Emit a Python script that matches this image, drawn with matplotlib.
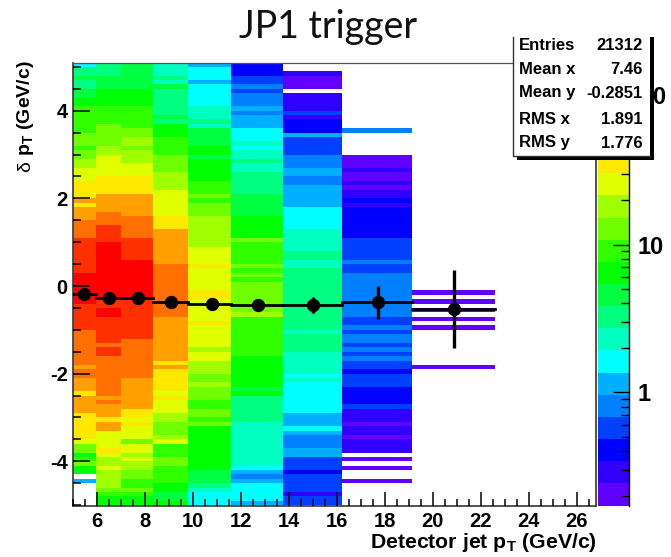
import matplotlib
matplotlib.use('Agg')
import matplotlib.pyplot as plt
from matplotlib.colors import ListedColormap, LogNorm
from matplotlib.patches import Rectangle
import numpy as np

W, H = 671, 557

# Z scale : 20 colour steps, from the palette
colors_z = ['#6000ff', '#3000ff', '#0000ff', '#0040ff', '#0080ff', '#00b0ff', '#00ffff',
            '#00ffc0', '#00ff80', '#00ff40', '#00ff00', '#30ff00', '#70ff00', '#a0ff00',
            '#e0ff00', '#ffe800', '#ffa000', '#ff7000', '#ff3000', '#ff0000']
z_min, z_max = 0.172, 170.0

# x bins (variable width)
x_edges = [4.98, 5.95, 7.0, 8.35, 9.8, 11.6, 13.75, 16.2, 19.15, 22.6]

# Each column : band edges from top to bottom, and colour step of each band (None = empty)
col0_y = [5.1, 5.0, 4.8, 4.7, 4.5, 4.3, 4.1, 3.5, 3.2, 3.1, 2.9, 2.7, 2.4, 2.0, 1.9, 1.8, 1.5, 1.1, 0.3,
          -0.4, -1.0, -1.8, -1.9, -2.1, -2.4, -2.5, -2.9, -3.5, -3.6, -3.8, -3.9, -4.0, -4.1, -4.3, -4.4, -4.5, -5.0]
col0_z = [6, 8, 9, 8, 9, 10, 11, 12, 11, 12, 13, 14, 15, 16, 15, 16, 17, 18, 19,
          18, 17, 16, 17, 16, 15, 16, 15, 14, 12, 10, 11, 12, 10, None, 5, None]

col1_y = [5.1, 4.8, 4.5, 4.1, 3.7, 3.2, 3.0, 2.5, 2.1, 1.7, 1.4, 1.0, -0.3, -0.5, -0.7, -1.3, -1.4, -1.6,
          -2.5, -2.6, -2.7, -3.0, -3.1, -3.3, -3.7, -3.8, -3.9, -4.1, -4.2, -4.6, -4.7, -4.8, -5.0]
col1_z = [8, 9, 10, 11, 12, 13, 14, 15, 16, 17, 18, 19, 18, 19, 18, 17, 18,
          17, 16, 17, 16, 15, 16, 14, 15, 14, 13, 14, 13, 12, 11, 10]

col2_y = [5.1, 4.5, 4.1, 3.6, 3.4, 3.2, 3.1, 2.8, 2.5, 2.1, 1.6, 1.1, 0.6, -0.3, -1.2, -2.1, -2.8, -3.0, -3.1,
          -3.2, -3.5, -3.6, -3.8, -3.9, -4.0, -4.2, -4.4, -4.6, -4.7, -4.8, -5.0]
col2_z = [9, 10, 11, 12, 13, 12, 13, 14, 15, 16, 17, 18, 19, 18, 17, 16, 15, 14,
          15, 14, 12, 14, 13, 14, 13, 12, 11, 12, 11, 10]

col3_y = [5.1, 4.8, 4.7, 4.6, 4.5, 3.9, 3.8, 3.7, 3.4, 3.0, 2.6, 2.2, 1.6, 1.3, 0.5, -0.7, -1.7, -1.8, -1.9,
          -2.4, -2.5, -2.6, -2.9, -3.1, -3.4, -3.5, -3.6, -3.9, -4.1, -4.5, -4.7, -4.9, -5.0]
col3_z = [7, 8, 7, 9, 8, 9, 8, 10, 11, 12, 13, 14, 15, 16, 17, 16, 15, 16,
          15, 14, 15, 14, 13, 12, 13, 14, 11, 12, 11, 10, 9, 10]

col4_y = [5.1, 5.0, 4.7, 4.6, 4.1, 3.8, 3.7, 3.6, 3.2, 3.0, 2.9, 2.4, 2.1, 2.0, 1.9, 1.6, 0.9, 0.5, 0.4,
          -0.1, -0.3, -0.8, -0.9, -1.4, -1.5, -1.7, -2.0, -2.2, -2.3, -2.6, -2.8, -3.0, -3.1, -3.2, -4.2, -4.5, -4.6, -4.7, -5.0]
col4_z = [5, 6, 5, 6, 7, 8, 7, 9, 10, 9, 10, 11, 12, 11, 12, 13, 14, 15, 14,
          15, 14, 15, 14, 13, 14, 13, 12, 13, 12, 11, 12, 11, 12, 10, 9, 8, 7, 6]

col5_y = [5.1, 4.8, 4.6, 4.5, 4.4, 4.1, 4.0, 3.9, 3.6, 3.3, 3.2, 3.1, 2.9, 2.8, 2.6, 2.1, 1.6, 1.1, 1.0, 0.5, 0.4, 0.3, 0.2, 0.1,
          -0.6, -0.7, -1.6, -2.3, -2.4, -2.5, -3.1, -4.1, -4.2, -4.3, -4.4, -4.5, -4.9, -5.0]
col5_z = [2, 3, 4, 3, 4, 5, 4, 5, 6, 7, 6, 7, 8, 7, 8, 9, 10, 12, 11, 12, 11, 12, 11, 12,
          13, 11, 10, 9, 10, 8, 7, 6, 5, 4, 5, 6, 5]

col6_y = [5.1, 4.9, 4.8, 4.5, 4.4, 4.0, 3.9, 3.8, 3.5, 3.4, 3.0, 2.7, 2.5, 2.3, 1.8, 1.3, 0.8, 0.6, 0.4,
          -1.0, -1.1, -1.5, -2.0, -2.1, -2.2, -2.9, -3.2, -3.3, -3.4, -3.7, -3.9, -4.2, -4.3, -4.7, -4.8, -5.0]
col6_z = [None, 1, 0, None, 1, 3, 1, 2, 5, 3, 4, 5, 4, 5, 6, 7, 8, 7, 8,
          7, 8, 7, 6, 7, 6, 5, 6, 5, 4, 5, 3, 2, 3, 1, 3]

col7_y = [5.1, 3.6, 3.5, 3.0, 2.7, 2.6, 2.4, 2.3, 2.2, 2.0, 1.9, 1.8, 1.1, 0.6, 0.5, 0.3,
          -0.7, -0.9, -1.0, -1.1, -1.3, -1.4, -1.5, -1.6, -1.7, -1.9, -2.0, -2.3, -2.7, -2.8, -3.1, -3.2, -3.4, -3.5,
          -3.8, -3.9, -4.0, -4.1, -4.2, -4.4, -4.5, -5.0]
col7_z = [None, 4, None, 0, 1, 0, 1, 0, 1, 2, 1, 2, 3, 4, 3, 4,
          3, 4, 3, 4, 3, 4, 3, 4, 3, 2, 3, 2, 3, 1, 0, 1, 0,
          1, None, 0, None, 0, None, 0, None]

col8_y = [5.1, -0.1, -0.2, -0.3, -0.4, -0.5, -0.6, -0.7, -0.8, -0.9, -1.0, -1.8, -1.9, -5.0]
col8_z = [None, 0, None, 0, None, 0, None, 0, None, 0, None, 0, None]

columns_y = [col0_y, col1_y, col2_y, col3_y, col4_y, col5_y, col6_y, col7_y, col8_y]
columns_z = [col0_z, col1_z, col2_z, col3_z, col4_z, col5_z, col6_z, col7_z, col8_z]

# Profile points
prof_x = [5.45, 6.5, 7.7, 9.1, 10.8, 12.7, 15.0, 17.7, 20.9]
prof_y = [-0.18, -0.28, -0.28, -0.37, -0.42, -0.43, -0.43, -0.37, -0.53]
prof_yerr = [0.05, 0.05, 0.05, 0.06, 0.07, 0.09, 0.19, 0.38, 0.89]

# Stat box
stat_names = ['Entries', 'Mean x', 'Mean y', 'RMS x', 'RMS y']
stat_values = ['21312', '7.46', '-0.2851', '1.891', '1.776']

x_ticks = [6, 8, 10, 12, 14, 16, 18, 20, 22, 24, 26]
y_ticks = [-4, -2, 0, 2, 4]
y_tick_labels = ['-4', '-2', '0', '2', '4']


def box(x0, y0, x1, y1):
    # pixel box (origin top left) -> figure fractions
    return [x0 / W, 1 - y1 / H, (x1 - x0) / W, (y1 - y0) / H]


plt.rcParams['font.family'] = ['Liberation Sans', 'DejaVu Sans']
plt.rcParams['font.weight'] = 'bold'
plt.rcParams['mathtext.fontset'] = 'custom'
plt.rcParams['mathtext.bf'] = 'Liberation Sans:bold'
plt.rcParams['mathtext.rm'] = 'Liberation Sans:bold'

fig = plt.figure(figsize=(W / 100, H / 100), dpi=100)
ax = fig.add_axes(box(72.5, 62.5, 596, 506))
cmap = ListedColormap(colors_z)
cmap.set_bad((1, 1, 1, 0))
norm = LogNorm(vmin=z_min, vmax=z_max)
step = np.log10(z_max / z_min) / len(colors_z)

mesh = None
for i in range(len(columns_y)):
    # centre of the colour step, as a count
    counts = [np.nan if s is None else z_min * 10 ** (step * (s + 0.5)) for s in columns_z[i]]
    mesh = ax.pcolormesh(x_edges[i:i + 2], columns_y[i], np.array(counts).reshape(-1, 1),
                         cmap=cmap, norm=norm, linewidth=0, rasterized=True)

# Profile
ax.errorbar(prof_x, prof_y, yerr=prof_yerr, fmt='none', ecolor='black', elinewidth=2.4, zorder=4)
for i in range(len(prof_x)):
    ax.plot(x_edges[i:i + 2], [prof_y[i], prof_y[i]], color='black', lw=2.0, zorder=4)
ax.plot(prof_x, prof_y, 'o', color='black', ms=8.6, zorder=5)

ax.set_xlim(4.98, 26.8)
ax.set_ylim(-5.02, 5.1)
ax.set_xticks(x_ticks)
ax.set_xticks(np.arange(5, 27, 0.5), minor=True)
ax.set_yticks(y_ticks)
ax.set_yticklabels(y_tick_labels)
ax.set_yticks(np.arange(-5, 5.1, 0.5), minor=True)
ax.tick_params(axis='x', which='major', direction='in', length=10, width=1.1, labelsize=14.5, pad=4)
ax.tick_params(axis='x', which='minor', direction='in', length=5, width=1.1)
ax.tick_params(axis='y', which='major', direction='in', length=12, width=1.1, labelsize=14.5, pad=3.5)
ax.tick_params(axis='y', which='minor', direction='in', length=6, width=1.1)
for side in ['left', 'bottom', 'right']:
    ax.spines[side].set_color('#444444')
    ax.spines[side].set_linewidth(1.3)
ax.spines['top'].set_color('#555555')
ax.spines['top'].set_linewidth(0.9)
ax.set_axisbelow(False)

# Colour bar
cax = fig.add_axes(box(598, 62.5, 629, 505.5))
cbar = fig.colorbar(mesh, cax=cax)
cbar.outline.set_visible(False)
cax.spines['right'].set_visible(True)
cax.spines['right'].set_color('black')
cax.spines['right'].set_linewidth(1.0)
cax.yaxis.set_ticks([1, 10, 100])
cax.yaxis.set_ticklabels(['1', '10', ''])
cax.yaxis.set_ticks([0.2, 0.3, 0.4, 0.5, 0.6, 0.7, 0.8, 0.9, 2, 3, 4, 5, 6, 7, 8, 9,
                     20, 30, 40, 50, 60, 70, 80, 90], minor=True)
cax.yaxis.set_minor_formatter(plt.NullFormatter())
cax.tick_params(which='major', direction='in', length=11.5, width=1.0, labelsize=17, pad=6)
cax.tick_params(which='minor', direction='in', length=5.8, width=1.0)
# what the stat box leaves visible of the upper colour bar label
fig.text(652 / W, 1 - 97 / H, '0', fontsize=17, ha='left', va='center')

# Stat box : shadow, white box, text
fig.add_artist(Rectangle((517 / W, 1 - 159.5 / H), 137 / W, 122.5 / H, transform=fig.transFigure,
                         facecolor='black', edgecolor='none', zorder=10))
fig.add_artist(Rectangle((512.5 / W, 1 - 156 / H), 137.5 / W, 119 / H, transform=fig.transFigure,
                         facecolor='white', edgecolor='none', zorder=11))
fig.add_artist(plt.Line2D([512.5 / W, 512.5 / W, 650 / W], [1 - 37 / H, 1 - 156 / H, 1 - 156 / H],
                          transform=fig.transFigure, color='#333333', lw=1.0, zorder=12))
stat_rows = [45, 70, 93, 120, 143]
for name, value, row in zip(stat_names, stat_values, stat_rows):
    fig.text(519 / W, 1 - row / H, name, fontsize=12, va='center', ha='left', zorder=13)
    fig.text(643 / W, 1 - row / H, value, fontsize=12, va='center', ha='right', zorder=13)

# Labels
fig.text(328 / W, 1 - 27 / H, 'JP1 trigger', family='Lato', fontweight='normal',
         fontsize=27, color='#111111', ha='center', va='center')
fig.text(597 / W, 1 - 543 / H, r'Detector jet p$_{\mathbf{T}}$ (GeV/c)', fontsize=15.3, ha='right', va='center')
fig.text(26 / W, 1 - 60 / H, r'p$_{\mathbf{T}}$ (GeV/c)', fontsize=14, rotation=90, ha='center', va='top')
fig.text(26 / W, 1 - 172 / H, 'δ', fontsize=14, fontweight='normal', rotation=90, ha='center', va='bottom')

fig.savefig('out.png', dpi=100)
